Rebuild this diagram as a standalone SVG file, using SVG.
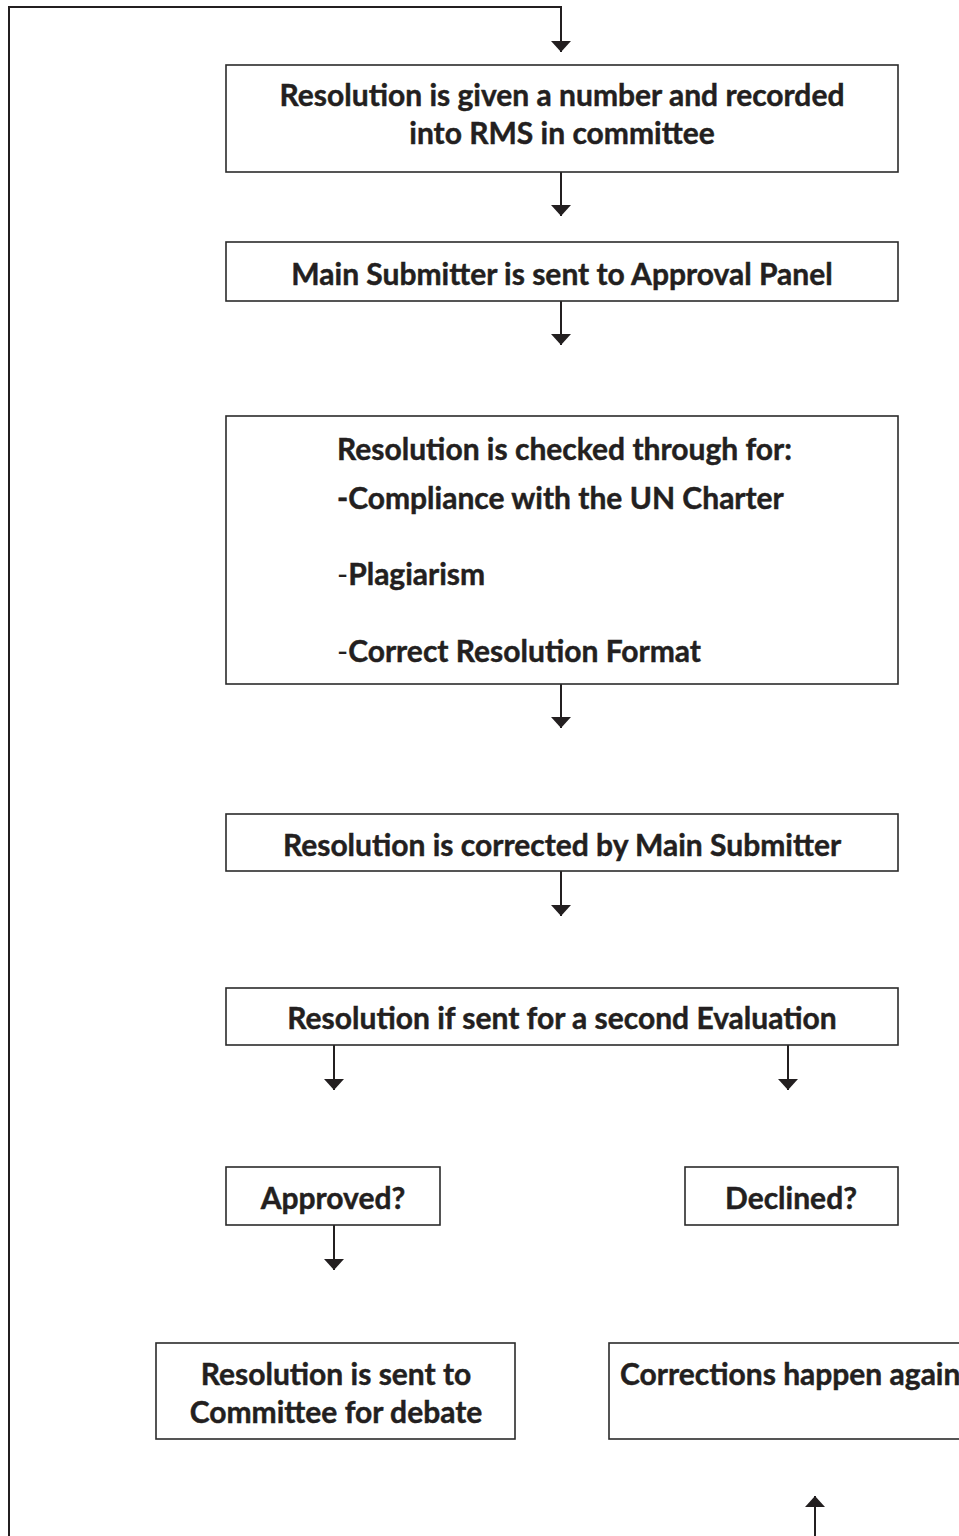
<svg xmlns="http://www.w3.org/2000/svg" width="959" height="1536" viewBox="0 0 959 1536">
  <style>
    .box { fill: #ffffff; stroke: #2b2b2b; stroke-width: 1.6; }
    .conn { fill: none; stroke: #231f20; stroke-width: 2; }
    .t { font-family: "Lato", "Open Sans", "Liberation Sans", sans-serif; font-weight: 700; font-size: 30px; fill: #231f20; stroke: #231f20; stroke-width: 0.45; }
    .c { text-anchor: middle; }
    .thin { font-weight: 400; stroke-width: 0; }
  </style>
  <defs>
    <marker id="ah" markerWidth="12" markerHeight="22" refX="11" refY="10" orient="auto" markerUnits="userSpaceOnUse">
      <path d="M0,0 L11,10 L0,20 z" fill="#231f20"/>
    </marker>
  </defs>

  <rect width="959" height="1536" fill="#ffffff"/>

  <!-- connectors -->
  <g id="connectors">
    <path class="conn" d="M9,1536 V7 H561 V52" marker-end="url(#ah)"/>
    <path class="conn" d="M561,172 V216" marker-end="url(#ah)"/>
    <path class="conn" d="M561,301 V345" marker-end="url(#ah)"/>
    <path class="conn" d="M561,684 V728" marker-end="url(#ah)"/>
    <path class="conn" d="M561,871 V916" marker-end="url(#ah)"/>
    <path class="conn" d="M334,1045 V1090" marker-end="url(#ah)"/>
    <path class="conn" d="M788,1045 V1090" marker-end="url(#ah)"/>
    <path class="conn" d="M334,1225 V1270" marker-end="url(#ah)"/>
    <path class="conn" d="M815,1536 V1496" marker-end="url(#ah)"/>
  </g>

  <g id="record">
    <rect class="box" x="226" y="65" width="672" height="107"/>
    <text class="t c" x="562" y="106">Resolution is given a number and recorded</text>
    <text class="t c" x="562" y="144">into RMS in committee</text>
  </g>

  <g id="approval-panel">
    <rect class="box" x="226" y="242" width="672" height="59"/>
    <text class="t c" x="562" y="285">Main Submitter is sent to Approval Panel</text>
  </g>

  <g id="checks">
    <rect class="box" x="226" y="416" width="672" height="268"/>
    <text class="t" x="337" y="460">Resolution is checked through for:</text>
    <text class="t" x="337" y="509">-Compliance with the UN Charter</text>
    <text class="t" x="337" y="585"><tspan class="thin">-</tspan>Plagiarism</text>
    <text class="t" x="337" y="662"><tspan class="thin">-</tspan>Correct Resolution Format</text>
  </g>

  <g id="corrected">
    <rect class="box" x="226" y="814" width="672" height="57"/>
    <text class="t c" x="562" y="856">Resolution is corrected by Main Submitter</text>
  </g>

  <g id="second-evaluation">
    <rect class="box" x="226" y="988" width="672" height="57"/>
    <text class="t c" x="562" y="1029">Resolution if sent for a second Evaluation</text>
  </g>

  <g id="approved">
    <rect class="box" x="226" y="1167" width="214" height="58"/>
    <text class="t c" x="333" y="1209">Approved?</text>
  </g>

  <g id="declined">
    <rect class="box" x="685" y="1167" width="213" height="58"/>
    <text class="t c" x="791" y="1209">Declined?</text>
  </g>

  <g id="debate">
    <rect class="box" x="156" y="1343" width="359" height="96"/>
    <text class="t c" x="336" y="1385">Resolution is sent to</text>
    <text class="t c" x="336" y="1423">Committee for debate</text>
  </g>

  <g id="corrections-again">
    <rect class="box" x="609" y="1343" width="370" height="96"/>
    <text class="t" x="620" y="1385">Corrections happen again</text>
  </g>
</svg>
